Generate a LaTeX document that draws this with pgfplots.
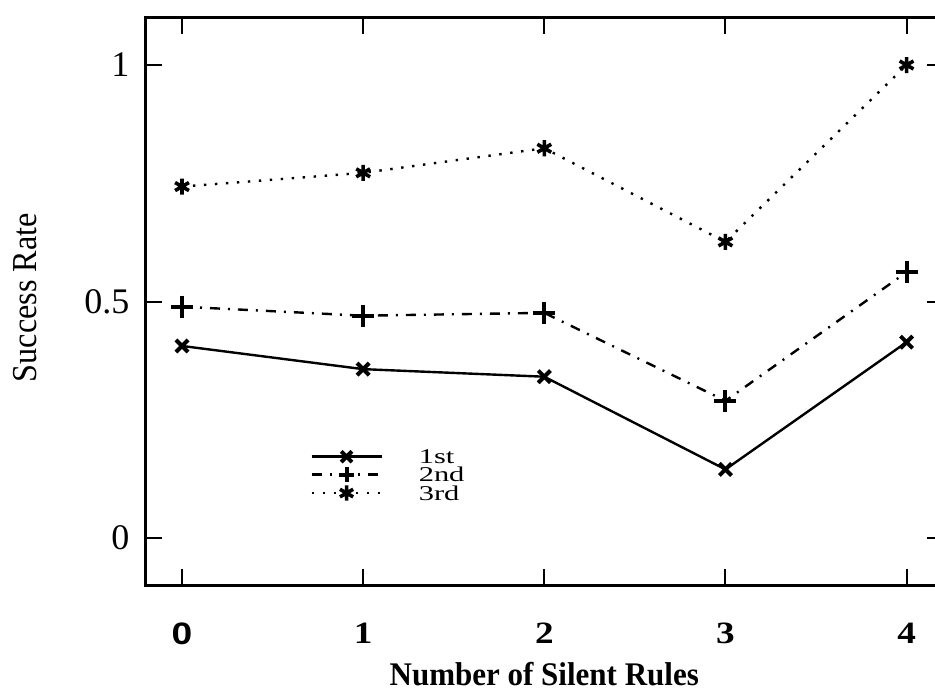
\documentclass[border=0pt]{standalone}
\usepackage{fontspec}
\setmainfont{Liberation Serif}
\newfontfamily\hel{Liberation Sans}
\usepackage{pgfplots}
\pgfplotsset{compat=1.18}

\newcommand{\wide}[1]{\scalebox{1.45}[1]{#1}}
\newcommand{\xt}[1]{\scalebox{1.2}[1]{#1}}

\begin{document}
\begin{tikzpicture}
\begin{axis}[
    scale only axis,
    width=398.5pt, height=283.8pt,
    xmin=-0.2, xmax=4.2, ymin=-0.1, ymax=1.1,
    xtick={0,1,2,3,4},
    xticklabels={\xt{\hel 0},\xt{1},\xt{2},\xt{3},\xt{4}},
    ytick={0,0.5,1},
    yticklabels={0,0.5,1},
    tick align=inside,
    major tick length=8pt,
    every tick/.style={black, line width=1pt},
    axis line style={line width=1.3pt},
    xticklabel style={font=\fontsize{15.5}{15.5}\selectfont\bfseries, anchor=north, inner sep=0pt, yshift=-18.5pt},
    yticklabel style={font=\fontsize{18}{18}\selectfont, anchor=east, inner sep=0pt, xshift=-8pt},
    xlabel={\scalebox{0.94}[1]{Number of Silent Rules}},
    ylabel={\scalebox{0.92}[1]{Success Rate}},
    xlabel style={font=\fontsize{16.5}{16.5}\selectfont\bfseries, at={(axis description cs:0.5,-0.1340)}, anchor=north, inner sep=0pt},
    ylabel style={font=\fontsize{17.5}{17.5}\selectfont, at={(axis description cs:-0.1518,0.507)}, anchor=center, inner sep=0pt},
    legend style={at={(axis description cs:0.206,0.240)}, anchor=north west, draw=none, fill=none,
        inner sep=0pt, row sep=1.6pt, column sep=18pt,
        font=\fontsize{10.5}{10.5}\selectfont,
        nodes={inner sep=0pt, text height=7.2pt, text depth=0pt}},
    legend cell align=left,
    legend image code/.code={\draw[mark repeat=2,mark phase=2,#1,mark size=3.8pt] plot coordinates {(0pt,0pt)(17.5pt,0pt)(35pt,0pt)};},
]
\addplot[black, line width=1.2pt, mark=x, mark size=4.3pt, mark options={solid, line width=2pt}]
    coordinates {(0,0.406) (1,0.357) (2,0.341) (3,0.145) (4,0.414)};
\addlegendentry{\wide{1st}}
\addplot[black, line width=1.2pt, dash pattern=on 5pt off 4pt on 1pt off 4pt, mark=+, mark size=5.5pt, mark options={solid, line width=2pt}]
    coordinates {(0,0.489) (1,0.470) (2,0.476) (3,0.290) (4,0.562)};
\addlegendentry{\wide{2nd}}
\addplot[black, line width=1.2pt, dash pattern=on 1.2pt off 4.3pt, mark=asterisk, mark size=4pt, mark options={solid, line width=1.8pt}]
    coordinates {(0,0.743) (1,0.772) (2,0.824) (3,0.626) (4,1.0)};
\addlegendentry{\wide{3rd}}
\end{axis}
\pgfresetboundingbox
\path[use as bounding box] (current axis.south west) ++(-72.9pt,-52.85pt) rectangle ++(467.5pt,345.5pt);
\end{tikzpicture}
\end{document}
